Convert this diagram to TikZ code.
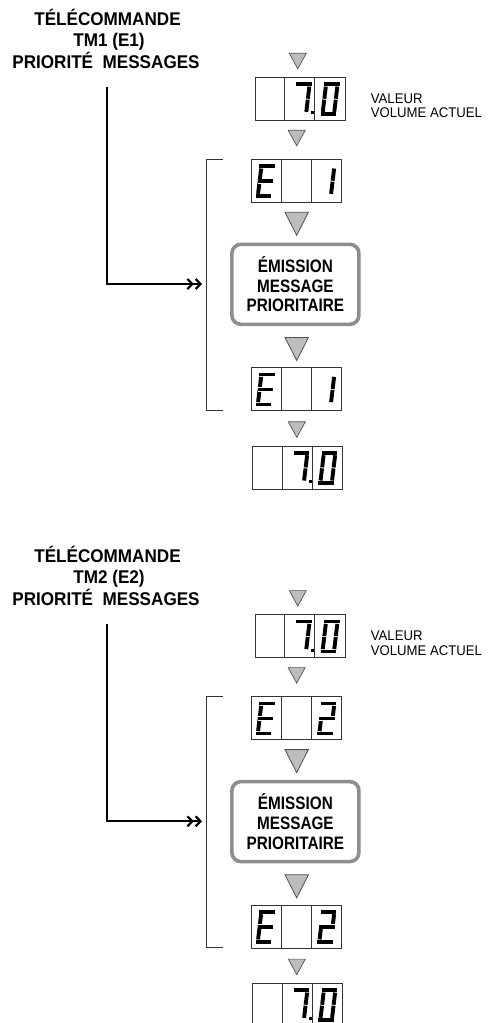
\documentclass[tikz,border=0pt]{standalone}
\usepackage{fontspec}
\setmainfont{Liberation Sans}
\newfontfamily\titlefont{Liberation Sans}[FakeStretch=0.93]
\newfontfamily\boxfont{Liberation Sans}[FakeStretch=0.85]
\newfontfamily\lblfont{Liberation Sans}[FakeStretch=0.94]
\usetikzlibrary{arrows.meta}
\definecolor{trigray}{HTML}{BDBDBD}
\definecolor{tridraw}{HTML}{505050}
\definecolor{boxgray}{HTML}{8E8E8E}
\definecolor{displine}{HTML}{333333}
\tikzset{
  titletext/.style={anchor=base, inner sep=0pt, font=\titlefont\bfseries\fontsize{18.4}{20}\selectfont},
  lbltext/.style={anchor=base west, inner sep=0pt, font=\lblfont\fontsize{14}{16}\selectfont},
  msgbox/.style={draw=boxgray, line width=3.6pt, rounded corners=9pt, minimum width=127pt,
    minimum height=80pt, align=center, inner sep=0pt,
    font=\boxfont\bfseries\fontsize{18}{19.6}\selectfont},
  disp/.style={draw=displine, line width=0.9pt},
  seg/.style={line width=3.9pt, line cap=butt, black},
  seggap/.style={line width=4.7pt, line cap=butt, white},
  smalltri/.style={fill=trigray, draw=tridraw, line width=0.7pt, line join=miter},
  bigtri/.style={fill=trigray, draw=tridraw, line width=0.8pt, line join=miter},
  bracketline/.style={draw=displine, line width=0.9pt},
  feedline/.style={line width=2pt, black,
    -{Straight Barb[length=4.8pt,width=10pt,line width=2.2pt,sep=0.8pt]Straight Barb[length=4.8pt,width=10pt,line width=2.2pt]}}
}
% seven-segment pieces (local coords: origin bottom-left, y up)
\newcommand\SegA{\draw[seg] (-1.95,30)--(13.45,30);}
\newcommand\SegD{\draw[seg] (-1.95,0)--(13.45,0);}
\newcommand\SegG{\draw[seggap] (-1.95,15)--(13.45,15);\draw[seg] (-1.95,15)--(13.45,15);}
\newcommand\SegB{\draw[seg] (11.5,15.45)--(11.5,27.65);}
\newcommand\SegC{\draw[seg] (11.5,2.35)--(11.5,14.55);}
\newcommand\SegE{\draw[seg] (0,2.35)--(0,14.55);}
\newcommand\SegF{\draw[seg] (0,15.45)--(0,27.65);}
\newcommand\SevenSeg[3]{\begin{scope}[shift={(#1,#2)},y=1pt,xslant=0.12]#3\end{scope}}
% display frame: #1 left, #2 top, #3 name
\newcommand\DispFrame[3]{%
  \node[disp, anchor=north west, minimum width=90pt, minimum height=43pt, inner sep=0pt] (#3) at (#1,#2) {};
  \draw[disp] (#1+30,#2) -- ++(0,43);
  \draw[disp] (#1+60,#2) -- ++(0,43);}
\newcommand\DispSeven[3]{% 7.0 display
  \DispFrame{#1}{#2}{#3}
  \SevenSeg{#1+40}{#2+37.2}{\SegB\SegC\SegA}
  \fill (#1+56.3,#2+34.2) rectangle ++(3,3);
  \SevenSeg{#1+68}{#2+37.2}{\SegB\SegC\SegE\SegF\SegA\SegD}}
\newcommand\DispE[4]{% E n display, #4 = 1 or 2
  \DispFrame{#1}{#2}{#3}
  \SevenSeg{#1+6.5}{#2+37.2}{\SegE\SegF\SegA\SegD\SegG}
  \ifnum#4=1 \SevenSeg{#1+68}{#2+37.2}{\SegB\SegC}\else
  \SevenSeg{#1+68}{#2+37.2}{\SegB\SegE\SegA\SegD\SegG}\fi}
\newcommand\SmallTri[2]{\draw[smalltri] (#1-8.5,#2) -- (#1+8.5,#2) -- (#1,#2+15.5) -- cycle;}
\newcommand\BigTri[2]{\draw[bigtri] (#1-11.7,#2) -- (#1+11.7,#2) -- (#1,#2+23) -- cycle;}
% one half: #1 y offset, #2 number, #3 prefix for names
\newcommand\HalfChart[3]{%
\begin{scope}[shift={(0,#1)}]
  \node[titletext] (#3t1) at (107.5,25) {TÉLÉCOMMANDE};
  \node[titletext] (#3t2) at (109,46.5) {TM#2 (E#2)};
  \node[titletext] (#3t3) at (106,68) {PRIORITÉ\ \ MESSAGES};
  \SmallTri{297.8}{53.3}
  \DispSeven{254.5}{77}{#3dA}
  \node[lbltext] (#3l1) at (370.7,103.3) {VALEUR};
  \node[lbltext] (#3l2) at (370.7,117.7) {VOLUME ACTUEL};
  \SmallTri{296.7}{130.3}
  \DispE{251.3}{159}{#3dB}{#2}
  \BigTri{296.7}{212.3}
  \node[msgbox] (#3msg) at (295.4,284.3) {ÉMISSION\\MESSAGE\\PRIORITAIRE};
  \BigTri{296.7}{337.5}
  \DispE{251.3}{367.3}{#3dC}{#2}
  \SmallTri{296.8}{421.8}
  \DispSeven{252.3}{445.7}{#3dD}
  \draw[bracketline] (222.7,159) -- (206,159) -- (206,410) -- (222.7,410);
  \coordinate (#3src) at (106.7,86.7);
  \coordinate (#3dst) at (202,284);
  \draw[feedline] (#3src) |- (#3dst);
\end{scope}}
\begin{document}
\begin{tikzpicture}[x=1pt,y=-1pt]
\useasboundingbox (0,0) rectangle (490,1023);
\clip (0,0) rectangle (490,1023);
\HalfChart{0}{1}{a}
\HalfChart{537.3}{2}{b}
\end{tikzpicture}
\end{document}
